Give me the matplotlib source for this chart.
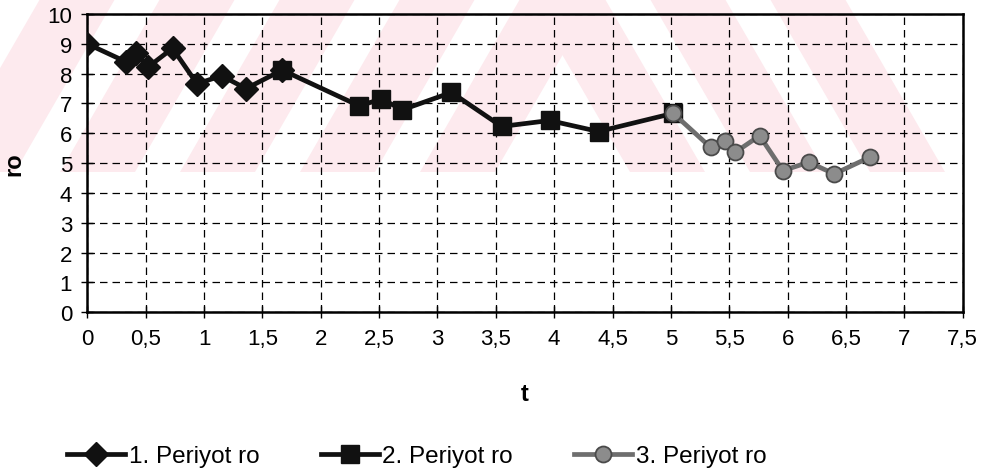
import matplotlib
matplotlib.use("Agg")
import matplotlib.pyplot as plt
from matplotlib.patches import Polygon
from matplotlib.ticker import FuncFormatter, MultipleLocator

plt.rcParams["font.family"] = ["Liberation Sans", "DejaVu Sans"]

# values
t1 = [0, 0.33, 0.42, 0.52, 0.73, 0.94, 1.15, 1.36, 1.67]
ro1 = [9.0, 8.4, 8.68, 8.22, 8.85, 7.66, 7.93, 7.5, 8.12]
t2 = [1.67, 2.33, 2.52, 2.70, 3.12, 3.55, 3.96, 4.38, 5.02]
ro2 = [8.12, 6.92, 7.15, 6.79, 7.37, 6.23, 6.43, 6.06, 6.67]
t3 = [5.02, 5.34, 5.46, 5.55, 5.76, 5.96, 6.18, 6.40, 6.71]
ro3 = [6.67, 5.53, 5.75, 5.36, 5.92, 4.75, 5.03, 4.64, 5.21]
labels = ["1. Periyot ro", "2. Periyot ro", "3. Periyot ro"]

W, H = 987, 477
fig = plt.figure(figsize=(W / 100, H / 100), dpi=100)

# background axes in pixel units for the faint watermark stripes
bg = fig.add_axes([0, 0, 1, 1], zorder=-1)
bg.set_xlim(0, W)
bg.set_ylim(H, 0)
bg.axis("off")
pink = "#fdeaee"
for x0 in [-60, 60, 180, 300, 420]:
    bg.add_patch(Polygon([(x0, 173), (x0 + 75, 173), (x0 + 175, 0), (x0 + 100, 0)],
                         closed=True, fc=pink, ec="none"))
for x0 in [530, 650, 770]:
    bg.add_patch(Polygon([(x0, 0), (x0 + 75, 0), (x0 + 175, 173), (x0 + 100, 173)],
                         closed=True, fc=pink, ec="none"))

ax = fig.add_axes([87.3 / W, 1 - 313.3 / H, (962.7 - 87.3) / W, (313.3 - 15) / H], zorder=1)
ax.patch.set_alpha(0)

ax.plot(t1, ro1, color="#111111", lw=3.4, marker="D", ms=12.5, mfc="#111111", mec="#111111",
        label=labels[0], zorder=3)
ax.plot(t2, ro2, color="#111111", lw=3.4, marker="s", ms=12.5, mfc="#111111", mec="#111111",
        label=labels[1], zorder=3)
ax.plot(t3, ro3, color="#6e6e6e", lw=3.4, marker="o", ms=11.5, mfc="#8c8c8c", mec="#4a4a4a",
        mew=1.3, label=labels[2], zorder=4)

ax.set_xlim(0, 7.5)
ax.set_ylim(0, 10)
ax.xaxis.set_major_locator(MultipleLocator(0.5))
ax.yaxis.set_major_locator(MultipleLocator(1))
ax.xaxis.set_major_formatter(FuncFormatter(lambda v, p: f"{v:g}".replace(".", ",")))
ax.grid(True, color="black", ls=(0, (6, 4)), lw=0.9)
ax.set_axisbelow(True)
for s in ax.spines.values():
    s.set_linewidth(1.8)
ax.tick_params(direction="inout", length=8, width=1, labelsize=16, pad=7)

ax.set_xlabel("t", fontsize=17, fontweight="bold", labelpad=24)
ax.set_ylabel("ro", fontsize=17, fontweight="bold", labelpad=16)

fig.legend(loc="center left", bbox_to_anchor=(55 / W, 1 - 457 / H), ncol=3, frameon=False,
           fontsize=17.5, handlelength=2.4, columnspacing=2.5, handletextpad=0.15, borderpad=0)

fig.savefig("out.png", dpi=100, facecolor="white")
